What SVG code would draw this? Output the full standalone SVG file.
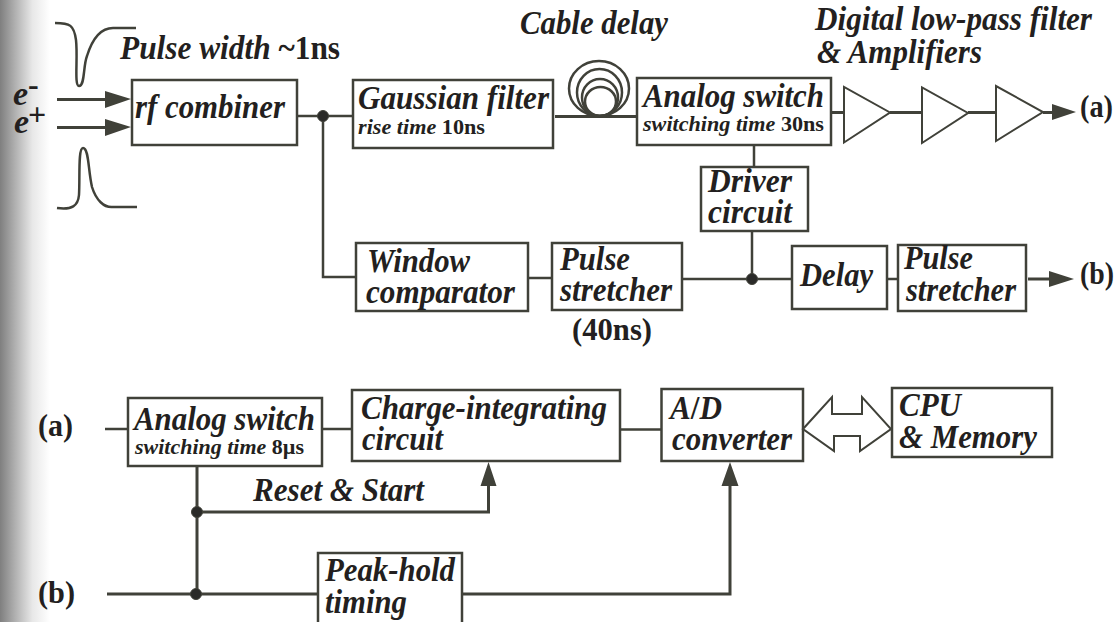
<svg xmlns="http://www.w3.org/2000/svg" width="1115" height="622" viewBox="0 0 1115 622">
<style>
text{font-family:"Liberation Serif","Times New Roman",serif;font-weight:bold;fill:#231f20}
.i{font-style:italic}
.l{font-size:34px}
.p{font-size:32px}
.m{font-size:34px}
.s{font-size:22px}
.b{fill:#fff;stroke:#404139;stroke-width:2.5}
.c{fill:none;stroke:#404139;stroke-width:2.5}
.k{fill:none;stroke:#404139;stroke-width:3}
.h{fill:#404139;stroke:none}
.d{fill:#2a2a28;stroke:#404139;stroke-width:1}
.t{fill:#fff;stroke:#404139;stroke-width:2}
</style>
<defs>
<linearGradient id="g" x1="0" x2="1" y1="0" y2="0"><stop offset="0" stop-color="#7f7f7f"/><stop offset="0.3" stop-color="#b0b0b0"/><stop offset="0.65" stop-color="#e8e8e8"/><stop offset="1" stop-color="#fff"/></linearGradient>
</defs>
<rect width="1115" height="622" fill="#fff"/>
<rect id="edge" width="50" height="622" fill="url(#g)"/>
<g id="connectors">
<path class="k" d="M57 99.500H110M57 127.500H110"/>
<path class="h" d="M105 91L131 99L105 108ZM105 119L131 127L105 136Z"/>
<path class="c" d="M55 23C70 23 74 25 76 40C78 58 74 86 79 86C85 86 83 66 87 56C92 40 100 28 113 28H136"/>
<path class="c" d="M57 208C72 210 78 206 79 195C80 178 78 148 83 148C89 148 88 170 92 187C96 200 104 208 113 207H137"/>
<path class="c" d="M298 116H352M323 116V277H356"/>
<path class="k" d="M555 116.500H637"/>
<g class="c"><ellipse cx="599" cy="88.500" rx="30" ry="27.500"/><ellipse cx="599.500" cy="92.500" rx="22.500" ry="23.500"/><ellipse cx="600" cy="97.500" rx="18" ry="18.500"/><ellipse cx="600.500" cy="101.500" rx="15.500" ry="14.500"/></g>
<path class="c" d="M754 145V167M752 231V279M682 279H792M528 278H552M887 279H898"/>
<path class="k" d="M1028 279H1052"/>
<path class="h" d="M1049 271L1074 279L1049 287Z"/>
<path class="k" d="M831 112.500H845M890 112.500H922M968 112.500H996M1043 112.500H1054"/>
<path class="h" d="M1052 104L1076 112L1052 120Z"/>
<path class="c" d="M105 429H128M322 429H352M620 429.500H661"/>
<path class="k" d="M197 466V594M197 512H488.500V480M107 594H318M462 594H730V480"/>
<path class="h" d="M488.500 462L496.500 486H480.500ZM730 462L738.500 486H721.500Z"/>
<circle class="d" cx="323" cy="116" r="5.500"/>
<circle class="d" cx="752" cy="279" r="5.500"/>
<circle class="d" cx="197" cy="512" r="5.500"/>
<circle class="d" cx="196" cy="594" r="5.500"/>
</g>
<g id="amp1"><path class="t" d="M844 87V142.500L890 112.500Z"/></g>
<g id="amp2"><path class="t" d="M922 87.500V143L968 113Z"/></g>
<g id="amp3"><path class="t" d="M996 86V141L1043 112Z"/></g>
<g id="labels">
<text class="i" x="13" y="105" font-size="34">e</text><text x="28" y="95" font-size="32">-</text>
<text class="i" x="14" y="133" font-size="34">e</text><text x="28" y="125" font-size="32">+</text>
<text class="i m" x="120" y="59" textLength="220" lengthAdjust="spacingAndGlyphs">Pulse width <tspan font-style="normal">~1ns</tspan></text>
<text class="i m" x="520" y="34" textLength="148" lengthAdjust="spacingAndGlyphs">Cable delay</text>
<text class="i m" x="815" y="30" textLength="277" lengthAdjust="spacingAndGlyphs">Digital low-pass filter</text>
<text class="i m" x="817" y="63" textLength="165" lengthAdjust="spacingAndGlyphs">&amp; Amplifiers</text>
<text class="p" x="1080" y="117" textLength="33" lengthAdjust="spacingAndGlyphs">(a)</text>
<text class="p" x="1080" y="284" textLength="34" lengthAdjust="spacingAndGlyphs">(b)</text>
<text class="p" x="572" y="340" textLength="80" lengthAdjust="spacingAndGlyphs">(40ns)</text>
<text class="p" x="38" y="436" textLength="35" lengthAdjust="spacingAndGlyphs">(a)</text>
<text class="p" x="38" y="603" textLength="37" lengthAdjust="spacingAndGlyphs">(b)</text>
<text class="i m" x="253" y="501" textLength="171" lengthAdjust="spacingAndGlyphs">Reset &amp; Start</text>
</g>
<g id="rf-combiner"><rect class="b" x="132" y="80" width="165" height="65"/><text class="i l" x="135" y="118" textLength="150" lengthAdjust="spacingAndGlyphs">rf combiner</text></g>
<g id="gaussian-filter"><rect class="b" x="353" y="80" width="200" height="68"/><text class="i l" x="358" y="109" textLength="191" lengthAdjust="spacingAndGlyphs">Gaussian filter</text><text class="i s" x="358" y="134" textLength="127" lengthAdjust="spacingAndGlyphs">rise time <tspan font-style="normal">10ns</tspan></text></g>
<g id="analog-switch-1"><rect class="b" x="637" y="78" width="194" height="67"/><text class="i l" x="643" y="107" textLength="181" lengthAdjust="spacingAndGlyphs">Analog switch</text><text class="i s" x="643" y="131" textLength="181" lengthAdjust="spacingAndGlyphs">switching time <tspan font-style="normal">30ns</tspan></text></g>
<g id="driver"><rect class="b" x="701" y="167" width="107" height="64"/><text class="i l" x="708" y="192" textLength="84" lengthAdjust="spacingAndGlyphs">Driver</text><text class="i l" x="708" y="223" textLength="84" lengthAdjust="spacingAndGlyphs">circuit</text></g>
<g id="window-comparator"><rect class="b" x="356" y="243" width="172" height="68"/><text class="i l" x="367" y="272" textLength="103" lengthAdjust="spacingAndGlyphs">Window</text><text class="i l" x="366" y="303" textLength="149" lengthAdjust="spacingAndGlyphs">comparator</text></g>
<g id="pulse-stretcher-1"><rect class="b" x="552" y="243" width="130" height="67"/><text class="i l" x="560" y="270" textLength="70" lengthAdjust="spacingAndGlyphs">Pulse</text><text class="i l" x="560" y="301" textLength="112" lengthAdjust="spacingAndGlyphs">stretcher</text></g>
<g id="delay"><rect class="b" x="792" y="246" width="95" height="63"/><text class="i l" x="800" y="286" textLength="73" lengthAdjust="spacingAndGlyphs">Delay</text></g>
<g id="pulse-stretcher-2"><rect class="b" x="898" y="245" width="128" height="66"/><text class="i l" x="904" y="269" textLength="69" lengthAdjust="spacingAndGlyphs">Pulse</text><text class="i l" x="906" y="301" textLength="110" lengthAdjust="spacingAndGlyphs">stretcher</text></g>
<g id="analog-switch-2"><rect class="b" x="128" y="398" width="194" height="68"/><text class="i l" x="134" y="430" textLength="181" lengthAdjust="spacingAndGlyphs">Analog switch</text><text class="i s" x="135" y="454" textLength="169" lengthAdjust="spacingAndGlyphs">switching time <tspan font-style="normal">8µs</tspan></text></g>
<g id="charge-integrating"><rect class="b" x="352" y="390" width="268" height="71"/><text class="i l" x="361" y="419" textLength="246" lengthAdjust="spacingAndGlyphs">Charge-integrating</text><text class="i l" x="362" y="450" textLength="81" lengthAdjust="spacingAndGlyphs">circuit</text></g>
<g id="ad-converter"><rect class="b" x="661.500" y="389" width="141.500" height="72"/><text class="i l" x="670" y="419" textLength="52" lengthAdjust="spacingAndGlyphs">A<tspan font-style="normal">/</tspan>D</text><text class="i l" x="672" y="450" textLength="120" lengthAdjust="spacingAndGlyphs">converter</text></g>
<g id="cpu-memory"><rect class="b" x="892" y="388" width="160" height="69"/><text class="i l" x="899" y="416" textLength="62" lengthAdjust="spacingAndGlyphs">CPU</text><text class="i l" x="899" y="448" textLength="138" lengthAdjust="spacingAndGlyphs">&amp; Memory</text></g>
<g id="peak-hold"><rect class="b" x="318" y="553" width="144" height="75"/><text class="i l" x="325" y="581" textLength="130" lengthAdjust="spacingAndGlyphs">Peak-hold</text><text class="i l" x="325" y="613" textLength="82" lengthAdjust="spacingAndGlyphs">timing</text></g>
<g id="bus"><path class="t" d="M803 429L832 397V414H862V397L891 429L860 451V436H834V451Z"/></g>
</svg>
